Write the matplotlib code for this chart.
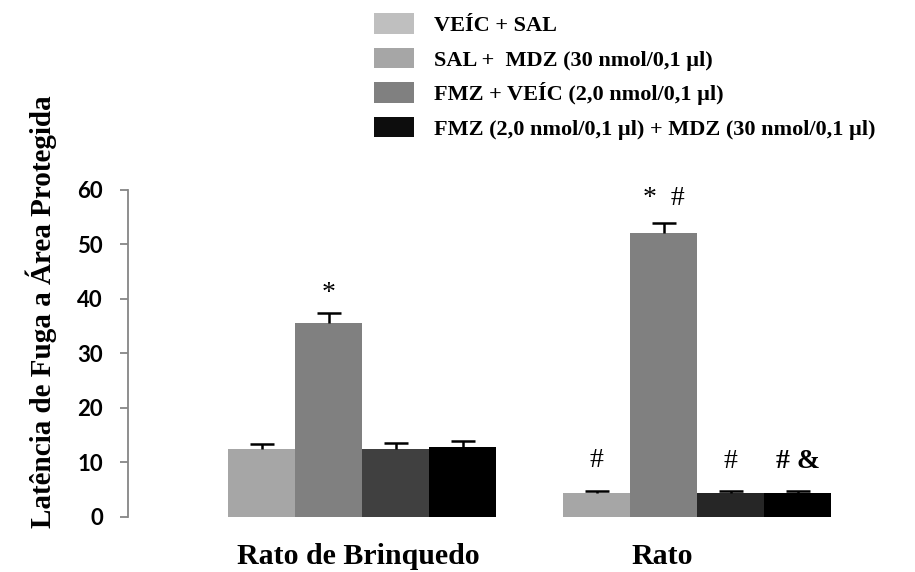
import matplotlib.pyplot as plt
from matplotlib.patches import Patch
import numpy as np

# categories and groups
groups = ['Rato de Brinquedo', 'Rato']
series = ['VEÍC + SAL',
          'SAL +  MDZ (30 nmol/0,1 µl)',
          'FMZ + VEÍC (2,0 nmol/0,1 µl)',
          'FMZ (2,0 nmol/0,1 µl) + MDZ (30 nmol/0,1 µl)']

# mean latency (s) per series, one value per group
means = [[12.4, 4.35],
         [35.5, 52.0],
         [12.4, 4.35],
         [12.8, 4.35]]
sems = [[0.9, 0.45],
        [1.9, 1.8],
        [1.2, 0.3],
        [1.0, 0.3]]

# significance marks above each bar
marks = [['', '#'],
         ['*', '*  #'],
         ['', '#'],
         ['', '# &']]

bar_colors = [['#a6a6a6', '#a6a6a6'],
              ['#808080', '#808080'],
              ['#404040', '#262626'],
              ['#000000', '#000000']]
legend_colors = ['#bfbfbf', '#a6a6a6', '#808080', '#0d0d0d']

serif = 'Liberation Serif'

fig = plt.figure(figsize=(9.15, 5.72), dpi=100)
ax = fig.add_axes([0.1399, 0.0967, 0.822, 0.572])

x = np.arange(len(groups))
w = 0.2
for i in range(len(series)):
    xs = x + (i - 1.5) * w
    ax.bar(xs, means[i], width=w, color=bar_colors[i], edgecolor='none', zorder=2)
    eb = ax.errorbar(xs, means[i], yerr=[np.zeros(len(groups)), sems[i]], fmt='none',
                     ecolor='black', elinewidth=1.8, capsize=8.5, capthick=1.8, zorder=3)
    eb[1][0].set_visible(False)  # only the upper cap
    for j in range(len(groups)):
        m = marks[i][j]
        if not m:
            continue
        if m == '*':
            gap = 2.3
        elif means[i][j] > 20:
            gap = 3.4
        else:
            gap = 4.3
        ax.text(xs[j], means[i][j] + sems[i][j] + gap, m,
                ha='center', va='baseline', fontsize=20, family=serif,
                fontweight='bold' if '&' in m else 'normal')

ax.set_xlim(-0.699, 1.546)
ax.set_ylim(0, 60)
ax.set_yticks(range(0, 61, 10))
# group labels sit slightly left of the group centres
ax.set_xticks(x + np.array([-0.012, -0.105]))
ax.set_xticklabels(groups, fontsize=21.5, family=serif, fontweight='bold')
ax.tick_params(axis='x', length=0, pad=19)
ax.tick_params(axis='y', length=6, width=1.3, color='#868686', pad=12)
for lbl in ax.get_yticklabels():
    lbl.set_fontsize(16)
    lbl.set_family('Lato')
    lbl.set_fontweight('bold')

for s in ['top', 'right', 'bottom']:
    ax.spines[s].set_visible(False)
ax.spines['left'].set_color('#868686')
ax.spines['left'].set_linewidth(1.3)

fig.text(0.045, 0.455, 'Latência de Fuga a Área Protegida', rotation=90,
         ha='center', va='center', fontsize=21, family=serif, fontweight='bold')

handles = [Patch(facecolor=c, edgecolor='none') for c in legend_colors]
fig.legend(handles, series, loc='upper left', bbox_to_anchor=(0.3985, 0.992),
           frameon=False, handlelength=1.8, handleheight=1.04, handletextpad=0.9,
           labelspacing=0.52, borderaxespad=0,
           prop={'family': serif, 'weight': 'bold', 'size': 16})

fig.savefig('out.png', dpi=100)
